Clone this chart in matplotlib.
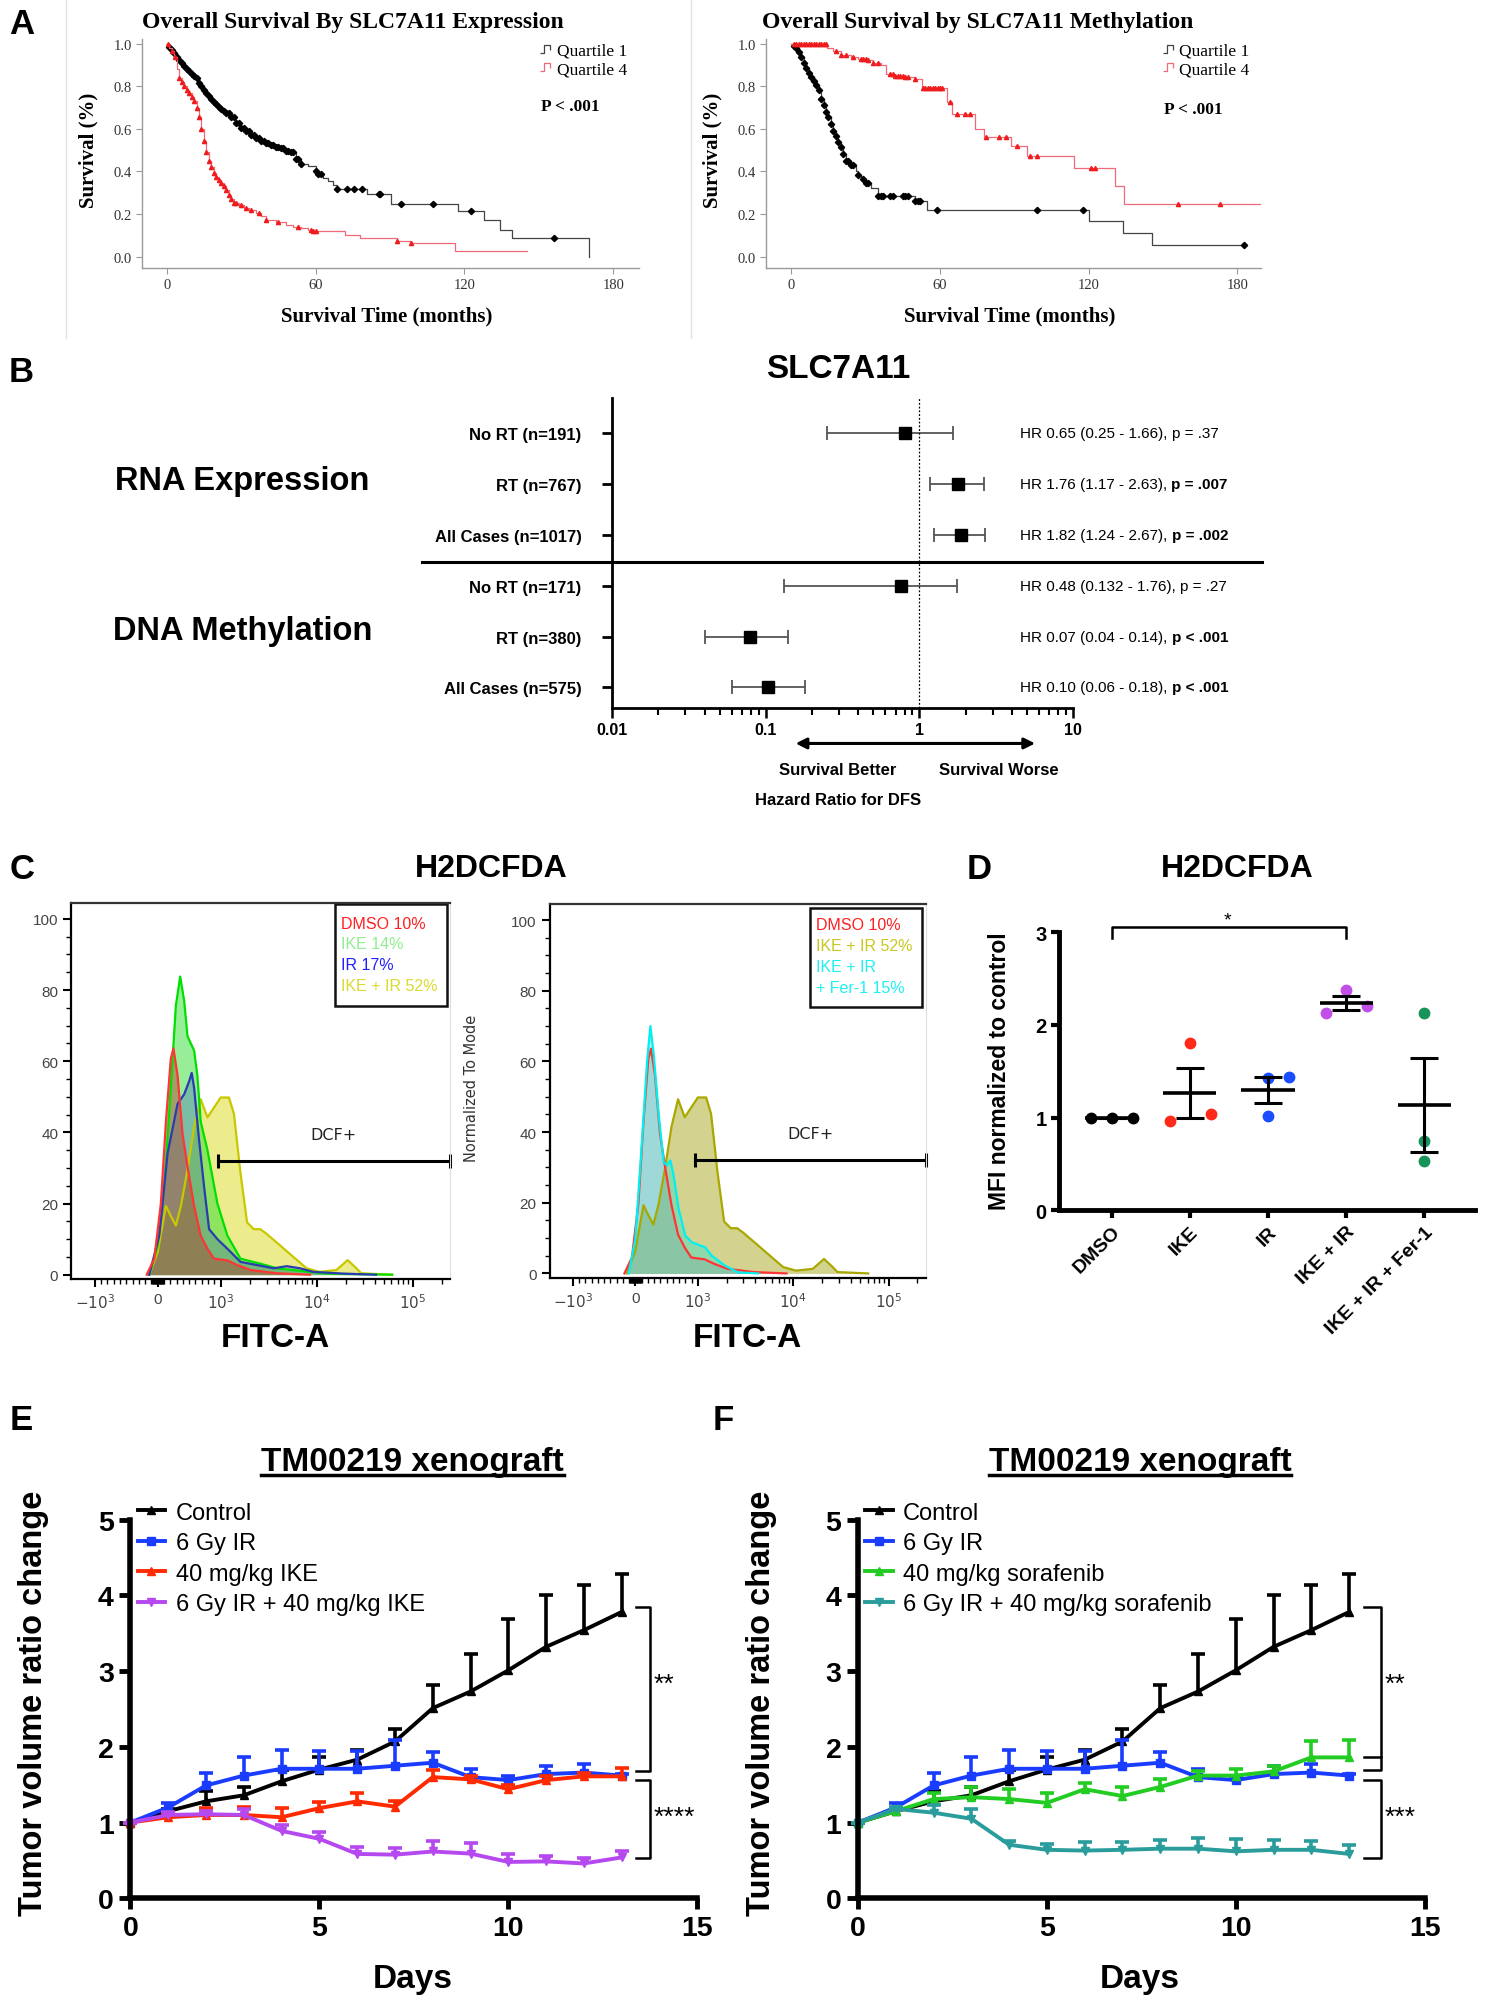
import numpy as np
import matplotlib
matplotlib.use('Agg')
import matplotlib.pyplot as plt
from matplotlib.lines import Line2D
from matplotlib.patches import Rectangle
from matplotlib.path import Path

plt.rcParams['font.family'] = ['Liberation Sans', 'DejaVu Sans']
SERIF = ['Liberation Serif', 'DejaVu Serif']
NARROW = ['Liberation Sans Narrow', 'Liberation Sans', 'DejaVu Sans']

# ---------------- A: Kaplan-Meier curves (months, survival) ----------------
expr_q1_t = [0, 1, 2, 3, 4, 5, 6, 7, 8, 9, 10, 11, 12, 13, 14, 15, 16, 17, 18, 19, 20,
             21, 22, 23, 24, 26, 28, 30, 32, 34, 36, 38, 40, 42, 44, 46, 48, 50, 52, 54,
             57, 60, 61, 63, 65, 67, 68.5, 80.7, 90.3, 117.4, 128, 134.4, 139, 170]
expr_q1_s = [1.0, 0.985, 0.97, 0.955, 0.94, 0.925, 0.91, 0.895, 0.88, 0.87, 0.86, 0.85,
             0.84, 0.815, 0.80, 0.785, 0.77, 0.755, 0.74, 0.728, 0.716, 0.705, 0.695,
             0.685, 0.675, 0.655, 0.628, 0.605, 0.59, 0.572, 0.555, 0.545, 0.535, 0.525,
             0.515, 0.508, 0.498, 0.49, 0.46, 0.434, 0.427, 0.40, 0.387, 0.37, 0.355,
             0.335, 0.316, 0.295, 0.248, 0.213, 0.174, 0.126, 0.087, 0.0]
expr_q1_cens = [1, 2, 3, 4, 5, 6, 7, 8, 9, 10, 11, 12, 13, 14, 15, 16, 17, 18, 19, 20, 21,
                22, 23, 24, 25, 26, 27, 28, 29, 30, 31, 32, 33, 34, 35, 36, 37, 38, 39, 40,
                41, 42, 43, 44, 45, 46, 47, 48, 49, 50, 51, 52, 53, 54, 60, 61, 62, 68.5,
                72.6, 75.3, 78.7, 85.4, 86, 94.3, 107.2, 122.8, 156]
expr_q4_t = [0, 1, 2, 3, 4, 5, 6, 7, 8, 9, 10, 11, 12, 13, 14, 15, 16, 17, 18, 19, 20,
             21, 22, 23, 24, 25, 26, 27, 29, 31, 33, 36, 38, 40, 44, 48, 51, 54, 57, 59,
             71.9, 78, 93, 98.4, 116, 145.2]
expr_q4_s = [1.0, 0.98, 0.965, 0.94, 0.88, 0.84, 0.82, 0.80, 0.785, 0.77, 0.75, 0.73,
             0.70, 0.656, 0.60, 0.545, 0.49, 0.45, 0.42, 0.395, 0.375, 0.36, 0.345, 0.33,
             0.315, 0.29, 0.27, 0.253, 0.24, 0.228, 0.221, 0.205, 0.19, 0.174, 0.16, 0.15,
             0.14, 0.134, 0.125, 0.118, 0.103, 0.087, 0.071, 0.063, 0.028, 0.028]
expr_q4_cens = [0.5, 2, 3.5, 5, 6, 7, 8, 9, 10, 11, 12, 13, 14, 15, 16, 17, 18, 19, 20, 21,
                22, 23, 24, 25, 26, 27, 28, 30, 32, 34, 37, 40, 45, 53, 58, 59, 60, 93, 98.4]

meth_q1_t = [0, 1, 2, 3, 4, 5, 6, 7, 8, 9, 10, 11, 12, 13, 14, 15, 16, 17, 18, 19, 20,
             21, 22, 24, 26, 27, 28, 30, 32, 35, 49.9, 54.6, 120.3, 133.9, 145.4, 182.7]
meth_q1_s = [1.0, 0.99, 0.98, 0.96, 0.94, 0.908, 0.885, 0.865, 0.845, 0.825, 0.805, 0.785,
             0.74, 0.711, 0.68, 0.656, 0.625, 0.592, 0.565, 0.54, 0.513, 0.48, 0.45, 0.43,
             0.403, 0.385, 0.363, 0.345, 0.324, 0.284, 0.26, 0.221, 0.166, 0.111, 0.055,
             0.055]
meth_q1_cens = [1, 2, 3, 4, 5, 6, 7, 8, 9, 10, 11, 12, 13, 14, 15, 16, 17, 18, 19, 20, 21,
                22, 23, 24, 25, 27, 29, 30, 31, 35, 36, 37, 40, 41, 45, 46, 47, 50, 51, 52,
                58.7, 99.3, 117.6, 182.7]
meth_q4_t = [0, 14.6, 17, 20, 24, 27, 30.9, 33, 36.3, 38.3, 42, 46, 49.9, 52.6, 62.7,
             64.8, 74.3, 77.6, 88.5, 95.3, 114.2, 130.5, 134.1, 192]
meth_q4_s = [1.0, 0.98, 0.965, 0.948, 0.94, 0.93, 0.924, 0.91, 0.9, 0.86, 0.85, 0.845,
             0.837, 0.79, 0.727, 0.671, 0.60, 0.561, 0.521, 0.474, 0.416, 0.332, 0.245,
             0.245]
meth_q4_cens = [1, 2, 3, 4, 5, 6, 7, 8, 9, 10, 11, 12, 13, 14, 18, 20, 22, 25, 28, 29, 30,
                31, 33, 35, 40, 41, 42, 43, 44, 45, 46, 47, 50, 53, 54, 55, 56, 57, 58, 59,
                60, 61, 64, 67, 70, 72, 78.5, 84, 86.5, 91, 96.5, 99, 121, 122.5, 156, 173]

# ---------------- B: forest plot ----------------
b_rows = ['No RT (n=191)', 'RT (n=767)', 'All Cases (n=1017)',
          'No RT (n=171)', 'RT (n=380)', 'All Cases (n=575)']
b_mark = [0.81, 1.78, 1.86, 0.755, 0.079, 0.103]
b_lo = [0.25, 1.17, 1.24, 0.132, 0.04, 0.06]
b_hi = [1.66, 2.63, 2.67, 1.76, 0.14, 0.18]
b_txt = ['HR 0.65 (0.25 - 1.66), ', 'HR 1.76 (1.17 - 2.63), ', 'HR 1.82 (1.24 - 2.67), ',
         'HR 0.48 (0.132 - 1.76), ', 'HR 0.07 (0.04 - 0.14), ', 'HR 0.10 (0.06 - 0.18), ']
b_p = ['p = .37', 'p = .007', 'p = .002', 'p = .27', 'p < .001', 'p < .001']
b_sig = [False, True, True, False, True, True]

# ---------------- C: flow histograms (FITC-A, % of mode) ----------------
dmso_x = [-175, -55, 50, 130, 208, 250, 315, 394, 473, 578, 683, 790, 895, 1174, 1490,
          2050, 3850, 8500]
dmso_y = [0, 4.5, 20, 43, 60.8, 63.6, 56, 39.6, 30.4, 19.3, 11, 7.3, 4.5, 4, 2.7, 1.3,
          0.4, 0]
ike_x = [-135, 0, 103, 208, 288, 357, 420, 473, 578, 630, 683, 790, 948, 1174, 1609,
         2587, 3850, 12500, 61000]
ike_y = [0, 8.2, 24.8, 52.5, 75.6, 83.8, 77, 67, 63, 56, 43, 35, 20, 11, 4.5, 3.1, 1.8,
         0.3, 0]
ir_x = [-135, 25, 156, 315, 420, 500, 540, 578, 656, 735, 816, 948, 1174, 1609, 2390,
        3547, 4874, 6697, 9175, 19000, 41500]
ir_y = [0, 11, 34, 48, 50.7, 54.4, 56.7, 52.5, 38, 25, 12.8, 10, 7.3, 3.6, 2.7, 1.8, 2.4,
        1.8, 0.8, 0.3, 0]
combo_x = [-135, 0, 130, 208, 288, 368, 473, 578, 683, 790, 895, 1000, 1220, 1374, 1609,
           1883, 2211, 2587, 3029, 4164, 5705, 7838, 10700, 16000, 21000, 25900, 29000,
           61000]
combo_y = [0, 6.4, 19.3, 16.5, 13.8, 19.3, 29.5, 41.5, 49.3, 44.2, 47, 49.8, 49.8, 45.2,
           28.5, 14.7, 12.8, 12.8, 11.4, 8.2, 5, 1.8, 0.8, 1.3, 4.1, 1.8, 0.4, 0]
fer_x = [-106, 0, 108, 188, 240, 294, 373, 453, 506, 560, 612, 692, 799, 905, 1191, 1400,
         1923, 2649, 4276]
fer_y = [0, 9.8, 38, 60, 70, 62, 45, 31.5, 30.6, 32, 27.7, 18.3, 10.7, 8.8, 7.4, 5, 2.2,
         0.3, 0]
gate_lo, gate_hi, gate_y = 960, 2.45e5, 32
c_left_leg = ['DMSO 10%', 'IKE 14%', 'IR 17%', 'IKE + IR 52%']
c_right_leg = ['DMSO 10%', 'IKE + IR 52%', 'IKE + IR', '+ Fer-1 15%']

# ---------------- D: MFI ----------------
d_groups = ['DMSO', 'IKE', 'IR', 'IKE + IR', 'IKE + IR + Fer-1']
d_vals = [[1.0, 1.0, 1.0], [0.96, 1.807, 1.042], [1.426, 1.441, 1.017],
          [2.127, 2.382, 2.199], [2.134, 0.747, 0.528]]
d_off = [[-0.27, 0, 0.27], [-0.26, 0, 0.27], [0, 0.27, 0], [-0.26, 0, 0.27], [0, 0, 0]]
d_colors = ['black', '#ff2a1a', '#1a4dff', '#c24ee8', '#16945a']

# ---------------- E / F: tumour growth ----------------
days = [0, 1, 2, 3, 4, 5, 6, 7, 8, 9, 10, 11, 12, 13]
ctrl_m = [1.0, 1.15, 1.28, 1.36, 1.545, 1.70, 1.83, 2.07, 2.51, 2.73, 3.01, 3.32, 3.54, 3.78]
ctrl_se = [0, 0.03, 0.13, 0.11, 0.155, 0.16, 0.13, 0.16, 0.31, 0.49, 0.68, 0.69, 0.60, 0.50]
ir_m = [1.0, 1.20, 1.49, 1.62, 1.71, 1.71, 1.71, 1.75, 1.79, 1.60, 1.56, 1.64, 1.66, 1.62]
ir_se = [0, 0.06, 0.16, 0.24, 0.25, 0.24, 0.24, 0.34, 0.14, 0.11, 0.06, 0.11, 0.11, 0.02]
ikeE_m = [1.0, 1.07, 1.10, 1.10, 1.07, 1.19, 1.28, 1.21, 1.60, 1.57, 1.44, 1.56, 1.61, 1.61]
ikeE_se = [0, 0.06, 0.09, 0.11, 0.12, 0.08, 0.11, 0.07, 0.09, 0.05, 0.05, 0.06, 0.05, 0.11]
comboE_m = [1.0, 1.10, 1.11, 1.10, 0.89, 0.785, 0.586, 0.576, 0.618, 0.59, 0.48, 0.487,
            0.46, 0.54]
comboE_se = [0, 0.04, 0.04, 0.08, 0.08, 0.095, 0.094, 0.089, 0.142, 0.143, 0.106, 0.078,
             0.074, 0.088]
sora_m = [1.0, 1.15, 1.31, 1.335, 1.31, 1.26, 1.44, 1.35, 1.47, 1.62, 1.62, 1.675, 1.86, 1.86]
sora_se = [0, 0.03, 0.08, 0.135, 0.13, 0.13, 0.08, 0.12, 0.11, 0.06, 0.09, 0.075, 0.21, 0.23]
comboF_m = [1.0, 1.18, 1.13, 1.05, 0.707, 0.64, 0.63, 0.64, 0.655, 0.655, 0.62, 0.64, 0.64,
            0.586]
comboF_se = [0, 0.02, 0.10, 0.13, 0.053, 0.08, 0.11, 0.10, 0.12, 0.14, 0.165, 0.135, 0.12,
             0.12]

# layout grid = reference preview (1170 x 1568)
PW, PH = 1170.0, 1568.0


def rect(x0, y0, x1, y1):
    return [x0 / PW, 1 - y1 / PH, (x1 - x0) / PW, (y1 - y0) / PH]


def ftext(x, y, s, **kw):
    kw.setdefault('ha', 'center')
    kw.setdefault('va', 'center')
    return fig.text(x / PW, 1 - y / PH, s, **kw)


def fline(xs, ys, **kw):
    fig.add_artist(Line2D([x / PW for x in xs], [1 - y / PH for y in ys],
                          transform=fig.transFigure, **kw))


def step_at(t, s, x):
    idx = np.searchsorted(t, x, side='right') - 1
    return np.asarray(s)[idx]


fig = plt.figure(figsize=(14.92, 19.99), dpi=100)

# panel letters
for x, y, s in [(17, 19, 'A'), (17, 292, 'B'), (17, 682, 'C'), (768, 682, 'D'),
                (17, 1114, 'E'), (567, 1114, 'F')]:
    ftext(x, y, s, fontsize=25, fontweight='bold')

# ================= A =================
STEP = Path([(-1, -0.6), (-0.4, -0.6), (-0.4, 0.6), (0.5, 0.6), (0.5, -0.1)])


def km_panel(r, xlim, title, tx, px, py, q1, q4):
    ax = fig.add_axes(rect(*r))
    for (t, s, c), lc, mc, mk, ms in [(q1, '#444444', 'black', 'D', 3.2),
                                      (q4, '#f06a7a', '#ee1c1c', '^', 3.0)]:
        ax.step(t, s, where='post', color=lc, lw=0.9)
        ax.plot(c, step_at(t, s, c), ls='none', marker=mk, color=mc, ms=ms)
    ax.set_xlim(*xlim)
    ax.set_ylim(-0.054, 1.022)
    ax.set_xticks([0, 60, 120, 180], ['0', '60', '120', '180'], fontfamily=SERIF)
    ax.set_yticks([0, 0.2, 0.4, 0.6, 0.8, 1.0],
                  ['0.0', '0.2', '0.4', '0.6', '0.8', '1.0'], fontfamily=SERIF)
    ax.tick_params(direction='out', length=4, color='#999999', labelsize=10.5,
                   labelcolor='#333333')
    for sp in ['top', 'right']:
        ax.spines[sp].set_visible(False)
    for sp in ['left', 'bottom']:
        ax.spines[sp].set_color('#999999')
        ax.spines[sp].set_linewidth(1.0)
    hs = [Line2D([], [], ls='none', marker=STEP, ms=10, mec='#444444', mfc='none', mew=0.9),
          Line2D([], [], ls='none', marker=STEP, ms=10, mec='#f06a7a', mfc='none', mew=0.9)]
    ax.legend(hs, ['Quartile 1', 'Quartile 4'], loc='upper right',
              bbox_to_anchor=(0.977, 0.985), frameon=False,
              prop=dict(family=SERIF, size=12.5), handlelength=0.9, handletextpad=0.1,
              labelspacing=0.15, borderaxespad=0, borderpad=0)
    ftext(px, py, 'P < .001', fontfamily=SERIF, fontweight='bold', fontsize=12.5)
    ftext(tx, 18, title, fontfamily=SERIF, fontweight='bold', fontsize=17)
    ftext((r[0] + r[2]) / 2 - 3, 248, 'Survival Time (months)', fontfamily=SERIF,
          fontweight='bold', fontsize=15)
    ftext(r[0] - 42, 118, 'Survival (%)', fontfamily=SERIF, fontweight='bold',
          fontsize=15, rotation=90)
    return ax


km_panel((111.5, 31.5, 500.8, 211), (-9.9, 190.2), 'Overall Survival By SLC7A11 Expression',
         277, 447, 84, (expr_q1_t, expr_q1_s, expr_q1_cens),
         (expr_q4_t, expr_q4_s, expr_q4_cens))
km_panel((600.7, 31.5, 988.6, 211), (-10.2, 189.4), 'Overall Survival by SLC7A11 Methylation',
         767, 936, 86, (meth_q1_t, meth_q1_s, meth_q1_cens),
         (meth_q4_t, meth_q4_s, meth_q4_cens))
fline([52, 52], [0, 266], color='#e2e2e2', lw=1)
fline([542, 542], [0, 266], color='#e2e2e2', lw=1)

# ================= B =================
axb = fig.add_axes(rect(480, 313, 841.5, 556))
rows = np.arange(len(b_rows))
mk = np.array(b_mark)
axb.errorbar(mk, rows, xerr=[mk - np.array(b_lo), np.array(b_hi) - mk], fmt='none',
             ecolor='#555555', elinewidth=1.3, capsize=5, capthick=1.3)
axb.plot(mk, rows, 's', color='black', ms=9)
axb.set_xscale('log')
axb.set_xlim(0.01, 10)
axb.set_ylim(5.4, -0.69)
axb.axvline(1, color='black', ls=(0, (1.5, 1.5)), lw=0.9)
for sp in ['top', 'right']:
    axb.spines[sp].set_visible(False)
for sp in ['left', 'bottom']:
    axb.spines[sp].set_linewidth(2)
axb.set_yticks(rows, b_rows, fontfamily=NARROW, fontweight='bold', fontsize=12)
axb.tick_params(axis='y', length=7, width=2, pad=15)
axb.set_xticks([0.01, 0.1, 1, 10], ['0.01', '0.1', '1', '10'], fontweight='bold',
               fontfamily=NARROW, fontsize=11.5)
axb.tick_params(axis='x', which='major', length=7, width=1.8)
axb.tick_params(axis='x', which='minor', length=5, width=1.5)
for i in rows:
    t = axb.text(0.885, i, b_txt[i], transform=axb.get_yaxis_transform(), ha='left',
                 va='center', fontsize=11, fontfamily=NARROW, clip_on=False)
    axb.annotate(b_p[i], xy=(1, 0.5), xycoords=t, ha='left', va='center', fontsize=11,
                 fontfamily=NARROW, fontweight='bold' if b_sig[i] else 'normal')
axb.annotate('', xy=(0.15, -0.115), xytext=(5.9, -0.115),
             xycoords=('data', 'axes fraction'), textcoords=('data', 'axes fraction'),
             arrowprops=dict(arrowstyle='<|-|>', color='black', lw=2.2, mutation_scale=16))
fline([331, 990], [442, 442], color='black', lw=2.2)
ftext(657, 290, 'SLC7A11', fontsize=24, fontweight='bold', fontfamily=NARROW)
ftext(190, 378, 'RNA Expression', fontsize=23.5, fontweight='bold')
ftext(190, 495, 'DNA Methylation', fontsize=23.5, fontweight='bold')
ftext(657, 604, 'Survival Better', fontsize=12, fontweight='bold', fontfamily=NARROW)
ftext(783, 604, 'Survival Worse', fontsize=12, fontweight='bold', fontfamily=NARROW)
ftext(657, 628, 'Hazard Ratio for DFS', fontsize=12, fontweight='bold', fontfamily=NARROW)

# ================= C =================
minor_fitc = ([-v for v in range(100, 1000, 100)] + [-v for v in range(10, 100, 10)]
              + list(range(10, 100, 10)) + list(range(100, 1000, 100))
              + [k * 1000 for k in range(2, 10)] + [k * 10000 for k in range(2, 10)]
              + [200000])


def flow_panel(r, layers, leg, leg_box, leg_y):
    ax = fig.add_axes(rect(*r))
    ax.set_xscale('symlog', linthresh=1000, linscale=0.59)
    for x, y, edge, face, a in layers:
        ax.fill_between(x, 0, y, color=face, alpha=a, lw=0)
    for x, y, edge, face, a in layers:
        ax.plot(x, y, color=edge, lw=1.6)
    ax.set_xlim(-1750, 2.45e5)
    ax.set_ylim(-1.2, 104.5)
    ax.set_xticks([-1000, 0, 1000, 10000, 100000],
                  [r'$-10^3$', '0', r'$10^3$', r'$10^4$', r'$10^5$'])
    ax.set_xticks(minor_fitc, minor=True)
    ax.set_yticks([0, 20, 40, 60, 80, 100])
    ax.set_yticks(range(0, 105, 5), minor=True)
    ax.tick_params(which='major', length=6, width=1.5, labelsize=11, labelcolor='#444444')
    ax.tick_params(which='minor', length=3.5, width=1.0)
    for sp in ['left', 'top', 'bottom']:
        ax.spines[sp].set_linewidth(1.6)
    ax.spines['top'].set_color('#333333')
    ax.spines['right'].set_color('#dddddd')
    ax.plot([gate_lo, gate_hi], [gate_y, gate_y], color='black', lw=2.2, clip_on=False)
    ax.plot([gate_lo, gate_hi], [gate_y, gate_y], ls='none', marker='|', ms=10, mew=2.2,
            color='black', clip_on=False)
    ax.text(15000, 39.5, 'DCF+', ha='center', va='center', fontsize=11.5, color='#222222',
            fontfamily='DejaVu Sans')
    ax.add_patch(Rectangle(leg_box[:2], leg_box[2], leg_box[3], transform=ax.transAxes,
                           fill=False, ec='#111111', lw=1.8))
    for (s, c), yy in zip(leg, leg_y):
        ax.text(leg_box[0] + 0.017, yy, s, color=c, transform=ax.transAxes, ha='left',
                va='center', fontsize=11.5, fontfamily=NARROW)
    return ax


flow_panel((56, 709, 353, 1004),
           [(combo_x, combo_y, '#c8c800', '#dede30', 0.55),
            (ike_x, ike_y, '#00e000', '#33dd33', 0.5),
            (ir_x, ir_y, '#2a3cb0', '#2233cc', 0.25),
            (dmso_x, dmso_y, '#ff3535', '#b33c28', 0.45)],
           list(zip(c_left_leg, ['#ff2020', '#90ee90', '#2020ff', '#dada30'])),
           (0.696, 0.725, 0.297, 0.272), [0.946, 0.891, 0.836, 0.781])
flow_panel((431, 710, 726, 1003),
           [(combo_x, combo_y, '#a8a800', '#a8a820', 0.5),
            (dmso_x, dmso_y, '#ff3535', '#c08080', 0.35),
            (fer_x, fer_y, '#00f0f0', '#00e5e5', 0.32)],
           list(zip(c_right_leg, ['#ff2020', '#c8c820', '#20f0f0', '#20f0f0'])),
           (0.692, 0.724, 0.298, 0.266), [0.945, 0.888, 0.833, 0.778])
ftext(385, 682, 'H2DCFDA', fontsize=23, fontweight='bold')
ftext(216, 1050, 'FITC-A', fontsize=24, fontweight='bold', fontfamily=NARROW)
ftext(586, 1050, 'FITC-A', fontsize=24, fontweight='bold', fontfamily=NARROW)
ftext(370, 854, 'Normalized To Mode', fontsize=10.5, rotation=90, color='#333333',
      fontfamily='DejaVu Sans')

# ================= D =================
axd = fig.add_axes(rect(830.5, 732, 1156.7, 950.2))
for i, (vals, offs, c) in enumerate(zip(d_vals, d_off, d_colors)):
    v = np.array(vals)
    m = v.mean()
    se = v.std(ddof=1) / np.sqrt(len(v))
    axd.plot(i + np.array(offs), v, 'o', color=c, ms=7.5, zorder=2, clip_on=False)
    axd.hlines(m, i - 0.34, i + 0.34, color='black', lw=2.6, zorder=3)
    axd.vlines(i, m - se, m + se, color='black', lw=2.2, zorder=3)
    axd.hlines([m - se, m + se], i - 0.18, i + 0.18, color='black', lw=2.2, zorder=3)
axd.set_xlim(-0.674, 4.65)
axd.set_ylim(0, 3)
for sp in ['top', 'right']:
    axd.spines[sp].set_visible(False)
for sp in ['left', 'bottom']:
    axd.spines[sp].set_linewidth(3.5)
axd.set_yticks([0, 1, 2, 3], ['0', '1', '2', '3'], fontweight='bold', fontsize=14.5)
axd.set_xticks(range(len(d_groups)), d_groups, fontweight='bold', fontsize=14,
               rotation=45, ha='right', rotation_mode='anchor')
axd.tick_params(length=6, width=3, pad=3)
axd.plot([0, 0, 3, 3], [2.94, 3.055, 3.055, 2.94], color='black', lw=1.8, clip_on=False)
axd.text(1.48, 3.13, '*', ha='center', va='center', fontsize=14)
ftext(970, 682, 'H2DCFDA', fontsize=23, fontweight='bold')
ftext(784, 840, 'MFI normalized to control', fontsize=16.5, fontweight='bold', rotation=90)


# ================= E / F =================
def growth_panel(r, series, title_x, brackets):
    ax = fig.add_axes(rect(*r))
    hs = []
    for lab, m, se, c, mk in series:
        m = np.array(m)
        top = m + np.array(se)
        ax.vlines(days, m, top, color=c, lw=2.6, clip_on=False)
        ax.plot(days, top, ls='none', marker='_', ms=10, mew=2.6, color=c, clip_on=False)
        ax.plot(days, m, color=c, lw=2.8, marker=mk, ms=5.5, clip_on=False)
        hs.append(Line2D([], [], color=c, lw=2.8, marker=mk, ms=5.5))
    ax.legend(hs, [s[0] for s in series], loc='upper left', bbox_to_anchor=(0.013, 1.047),
              frameon=False, fontsize=17, handlelength=1.15, handletextpad=0.45,
              labelspacing=0.36, borderaxespad=0, borderpad=0)
    ax.set_xlim(0, 15)
    ax.set_ylim(0, 5)
    for sp in ['top', 'right']:
        ax.spines[sp].set_visible(False)
    for sp in ['left', 'bottom']:
        ax.spines[sp].set_linewidth(4)
    ax.set_xticks([0, 5, 10, 15], ['0', '5', '10', '15'], fontweight='bold', fontsize=20.5)
    ax.set_yticks([0, 1, 2, 3, 4, 5], ['0', '1', '2', '3', '4', '5'], fontweight='bold',
                  fontsize=20.5)
    ax.tick_params(length=8, width=3.5, pad=4)
    for xs, ys, lab, ly in brackets:
        ax.plot(xs, ys, color='black', lw=1.8, clip_on=False)
        ax.text(xs[1] + 0.1, ly, lab, ha='left', va='center', fontsize=19, clip_on=False)
    t = ftext(title_x, 1147, 'TM00219 xenograft', fontsize=24, fontweight='bold')
    ftext(title_x, 1553, 'Days', fontsize=24, fontweight='bold')
    return t


tE = growth_panel((102.3, 1192.7, 546.8, 1489.8),
                  [('Control', ctrl_m, ctrl_se, 'black', '^'),
                   ('6 Gy IR', ir_m, ir_se, '#1a3cff', 's'),
                   ('40 mg/kg IKE', ikeE_m, ikeE_se, '#ff2a00', '^'),
                   ('6 Gy IR + 40 mg/kg IKE', comboE_m, comboE_se, '#b548ee', 'v')],
                  323.6,
                  [([13.37, 13.74, 13.74, 13.37], [3.84, 3.84, 1.675, 1.675], '**', 2.83),
                   ([13.37, 13.74, 13.74, 13.37], [1.56, 1.56, 0.534, 0.534], '****', 1.07)])
tF = growth_panel((672.9, 1192.7, 1117.2, 1489.8),
                  [('Control', ctrl_m, ctrl_se, 'black', '^'),
                   ('6 Gy IR', ir_m, ir_se, '#1a3cff', 's'),
                   ('40 mg/kg sorafenib', sora_m, sora_se, '#22cc22', '^'),
                   ('6 Gy IR + 40 mg/kg sorafenib', comboF_m, comboF_se, '#2a9c9c', 'v')],
                  894,
                  [([13.4, 13.85, 13.85, 13.4], [3.84, 3.84, 1.86, 1.86], '**', 2.83),
                   ([13.85, 13.85, 13.4], [1.86, 1.69, 1.69], '', 1.8),
                   ([13.4, 13.85, 13.85, 13.4], [1.56, 1.56, 0.53, 0.53], '***', 1.07)])
ftext(26, 1336, 'Tumor volume ratio change', fontsize=23.5, fontweight='bold', rotation=90)
ftext(597, 1336, 'Tumor volume ratio change', fontsize=23.5, fontweight='bold', rotation=90)

fig.canvas.draw()
rend = fig.canvas.get_renderer()
for t in (tE, tF):
    bb = t.get_window_extent(rend).transformed(fig.transFigure.inverted())
    fig.add_artist(Line2D([bb.x0, bb.x1], [bb.y0 + 0.001, bb.y0 + 0.001],
                          transform=fig.transFigure, color='black', lw=2.5))

fig.savefig('out.png', dpi=100)
